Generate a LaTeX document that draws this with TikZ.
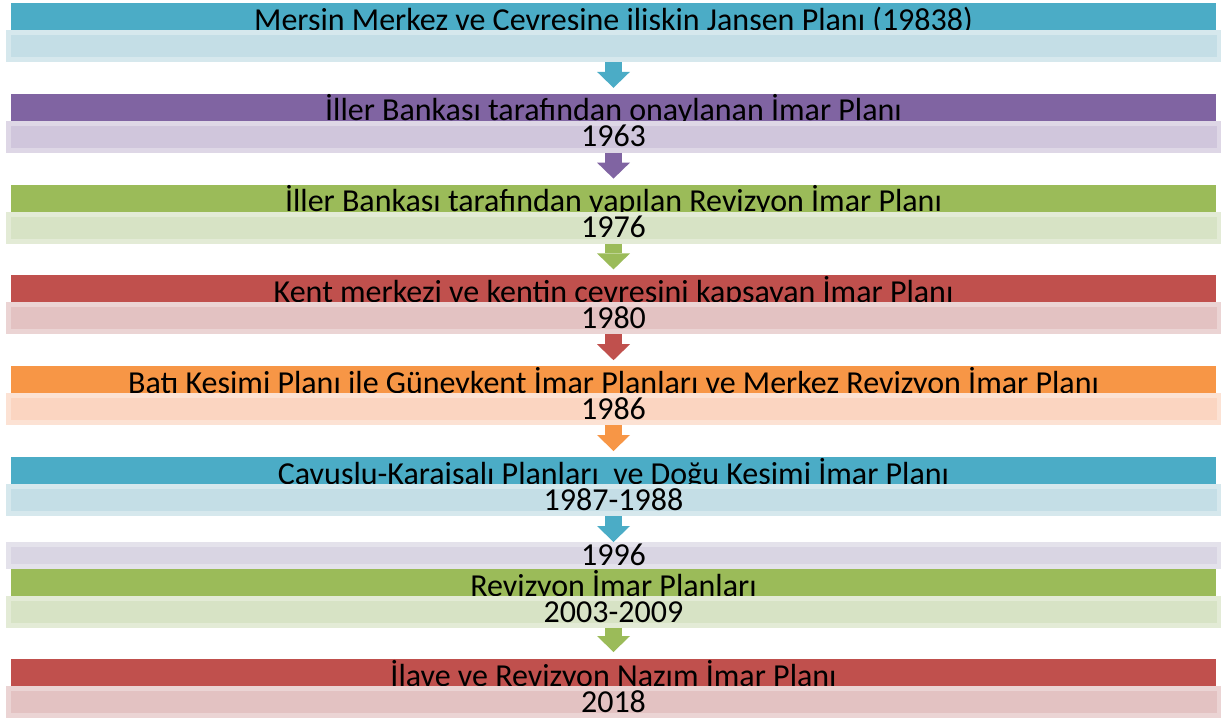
\documentclass[tikz,border=0pt]{standalone}
\usepackage{fontspec}
\setmainfont{Carlito}
\usetikzlibrary{positioning}
\usetikzlibrary{arrows.meta}

\definecolor{tealA}{HTML}{4BACC6}
\definecolor{tealL}{HTML}{C4DEE6}
\definecolor{purpA}{HTML}{8064A2}
\definecolor{purpL}{HTML}{D0C6DC}
\definecolor{greenA}{HTML}{9BBB59}
\definecolor{greenL}{HTML}{D7E3C5}
\definecolor{redA}{HTML}{C0504D}
\definecolor{redL}{HTML}{E3C2C2}
\definecolor{orangeA}{HTML}{F79646}
\definecolor{orangeL}{HTML}{FBD5C1}
\definecolor{lavL}{HTML}{D9D5E3}

\begin{document}
\begin{tikzpicture}[x=0.5pt, y=-0.5pt, node distance=15.9pt,
  font=\fontsize{16pt}{19pt}\selectfont,
  headbar/.style={fill=#1, minimum width=602.5pt, minimum height=13.5pt, inner sep=0pt, outer sep=0pt, text height=13.5pt, text depth=0pt},
  yearbar/.style={fill=#1, draw=#1!70!white, line width=2.5pt, minimum width=605.5pt, minimum height=13.5pt, inner xsep=0pt, inner ysep=1.75pt, text height=10pt, text depth=0pt},
  steparrow/.style={draw=#1, line width=8.5pt, -{Triangle[width=16.5pt, length=8pt, line width=0pt]}, shorten >=3pt}]
\useasboundingbox (0,0) rectangle (1221,718);

\node[headbar=tealA, anchor=north] (h1) at (613.5,3) {Mersin Merkez ve Cevresine iliskin Jansen Planı (19838)};
\node[yearbar=tealL, below=0pt of h1] (y1) {};

\node[headbar=purpA, below=of y1] (h2) {İller Bankası tarafından onaylanan İmar Planı};
\node[yearbar=purpL, below=0pt of h2] (y2) {1963};

\node[headbar=greenA, below=of y2] (h3) {İller Bankası tarafından yapılan Revizyon İmar Planı};
\node[yearbar=greenL, below=0pt of h3] (y3) {1976};

\node[headbar=redA, below=of y3] (h4) {Kent merkezi ve kentin cevresini kapsayan İmar Planı};
\node[yearbar=redL, below=0pt of h4] (y4) {1980};

\node[headbar=orangeA, below=of y4] (h5) {Batı Kesimi Planı ile Güneykent İmar Planları ve Merkez Revizyon İmar Planı};
\node[yearbar=orangeL, below=0pt of h5] (y5) {1986};

\node[headbar=tealA, below=of y5] (h6) {Cavuslu-Karaisalı Planları~ ve Doğu Kesimi İmar Planı};
\node[yearbar=tealL, below=0pt of h6] (y6) {1987-1988};

% 1996 has no title bar
\node[yearbar=lavL, minimum height=11pt, inner ysep=0.5pt, below=13pt of y6] (y7) {1996};

\node[headbar=greenA, below=0pt of y7] (h8) {Revizyon İmar Planları};
\node[yearbar=greenL, below=0pt of h8] (y8) {2003-2009};

\node[headbar=redA, below=15.5pt of y8] (h9) {İlave ve Revizyon Nazım İmar Planı};
\node[yearbar=redL, below=0pt of h9] (y9) {2018};

\draw[steparrow=tealA] (y1) -- (h2);
\draw[steparrow=purpA] (y2) -- (h3);
\draw[steparrow=greenA] (y3) -- (h4);
\draw[steparrow=redA] (y4) -- (h5);
\draw[steparrow=orangeA] (y5) -- (h6);
\draw[steparrow=tealA, shorten >=0pt] (y6) -- (y7);
\draw[steparrow=greenA, shorten >=3.5pt] (y8) -- (h9);
\end{tikzpicture}
\end{document}
